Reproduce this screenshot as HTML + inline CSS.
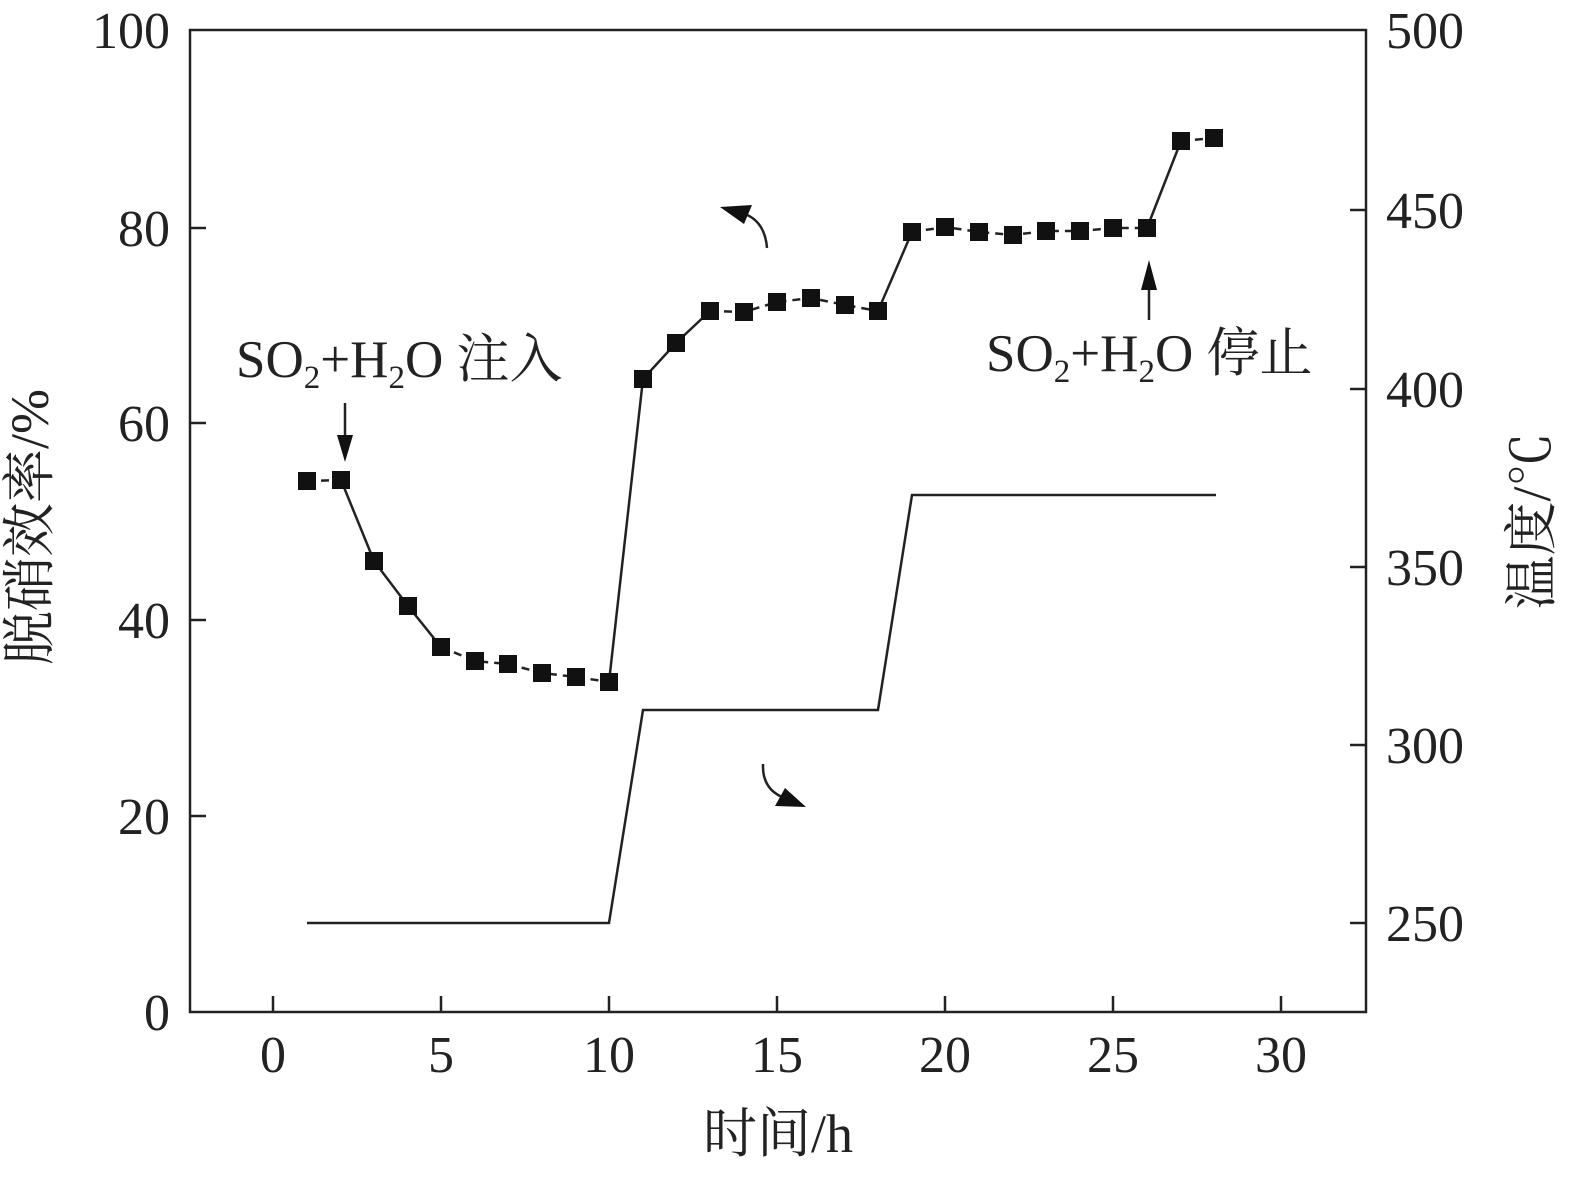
<!DOCTYPE html>
<html><head><meta charset="utf-8"><style>body{margin:0;background:#fff}</style></head><body>
<svg width="1575" height="1174" xmlns="http://www.w3.org/2000/svg" font-family="Liberation Serif, Noto Serif CJK SC, serif" fill="#222">
<rect x="190" y="30" width="1176" height="982" fill="none" stroke="#222" stroke-width="2.5"/>
<g stroke="#222" stroke-width="2.5">
<line x1="190" y1="816" x2="206" y2="816"/><line x1="190" y1="620" x2="206" y2="620"/><line x1="190" y1="423" x2="206" y2="423"/><line x1="190" y1="228" x2="206" y2="228"/>
<line x1="1366" y1="210" x2="1350" y2="210"/><line x1="1366" y1="389" x2="1350" y2="389"/><line x1="1366" y1="567" x2="1350" y2="567"/><line x1="1366" y1="745" x2="1350" y2="745"/><line x1="1366" y1="923" x2="1350" y2="923"/>
<line x1="273" y1="1012" x2="273" y2="996"/><line x1="441" y1="1012" x2="441" y2="996"/><line x1="609" y1="1012" x2="609" y2="996"/><line x1="777" y1="1012" x2="777" y2="996"/><line x1="945" y1="1012" x2="945" y2="996"/><line x1="1113" y1="1012" x2="1113" y2="996"/><line x1="1281" y1="1012" x2="1281" y2="996"/>
</g>
<g font-size="52" text-anchor="end">
<text x="170" y="1030">0</text><text x="170" y="834">20</text><text x="170" y="638">40</text><text x="170" y="441">60</text><text x="170" y="246">80</text><text x="170" y="48">100</text>
</g>
<g font-size="52" text-anchor="start">
<text x="1386" y="48">500</text><text x="1386" y="228">450</text><text x="1386" y="407">400</text><text x="1386" y="585">350</text><text x="1386" y="763">300</text><text x="1386" y="941">250</text>
</g>
<g font-size="52" text-anchor="middle">
<text x="273" y="1072">0</text><text x="441" y="1072">5</text><text x="609" y="1072">10</text><text x="777" y="1072">15</text><text x="945" y="1072">20</text><text x="1113" y="1072">25</text><text x="1281" y="1072">30</text>
</g>
<text x="778" y="1152" font-size="54" text-anchor="middle">时间/h</text>
<text font-size="54" text-anchor="middle" transform="translate(48,527) rotate(-90)">脱硝效率/%</text>
<text font-size="54" text-anchor="middle" transform="translate(1550,521) rotate(-90)">温度/<tspan font-family="Noto Serif CJK SC, serif">℃</tspan></text>
<polyline fill="none" stroke="#222" stroke-width="2.5" points="307,923 609,923 643,710 878,710 912,495 1216,495"/>
<g fill="none" stroke="#222" stroke-width="2.5">
<polyline stroke-dasharray="8,6" points="307,481 341,480"/>
<polyline points="341,480 374,561 408,606 441,647"/>
<polyline stroke-dasharray="8,6" points="441,647 475,661 508,664 542,673 576,677 609,682"/>
<polyline points="609,682 643,379 676,343 710,311"/>
<polyline stroke-dasharray="8,6" points="710,311 744,312 777,302 811,298 845,305 878,311"/>
<polyline points="878,311 912,232"/>
<polyline stroke-dasharray="8,6" points="912,232 945,227 979,232 1013,235 1046,231 1080,231 1113,228 1147,228"/>
<polyline points="1147,228 1181,141"/>
<polyline stroke-dasharray="8,6" points="1181,141 1214,138"/>
</g>
<g fill="#111">
<rect x="298" y="472" width="18" height="18"/><rect x="332" y="471" width="18" height="18"/><rect x="365" y="552" width="18" height="18"/><rect x="399" y="597" width="18" height="18"/><rect x="432" y="638" width="18" height="18"/><rect x="466" y="652" width="18" height="18"/><rect x="499" y="655" width="18" height="18"/><rect x="533" y="664" width="18" height="18"/><rect x="567" y="668" width="18" height="18"/><rect x="600" y="673" width="18" height="18"/>
<rect x="634" y="370" width="18" height="18"/><rect x="667" y="334" width="18" height="18"/><rect x="701" y="302" width="18" height="18"/><rect x="735" y="303" width="18" height="18"/><rect x="768" y="293" width="18" height="18"/><rect x="802" y="289" width="18" height="18"/><rect x="836" y="296" width="18" height="18"/><rect x="869" y="302" width="18" height="18"/>
<rect x="903" y="223" width="18" height="18"/><rect x="936" y="218" width="18" height="18"/><rect x="970" y="223" width="18" height="18"/><rect x="1004" y="226" width="18" height="18"/><rect x="1037" y="222" width="18" height="18"/><rect x="1071" y="222" width="18" height="18"/><rect x="1104" y="219" width="18" height="18"/><rect x="1138" y="219" width="18" height="18"/><rect x="1172" y="132" width="18" height="18"/><rect x="1205" y="129" width="18" height="18"/>
</g>
<text x="236" y="377" font-size="53">SO<tspan font-size="33" dy="11">2</tspan><tspan dy="-11">+H</tspan><tspan font-size="33" dy="11">2</tspan><tspan dy="-11">O 注入</tspan></text>
<text x="986" y="371" font-size="53">SO<tspan font-size="33" dy="11">2</tspan><tspan dy="-11">+H</tspan><tspan font-size="33" dy="11">2</tspan><tspan dy="-11">O 停止</tspan></text>
<line x1="345" y1="403" x2="345" y2="440" stroke="#222" stroke-width="2.5"/><polygon points="337,435 353,435 345,462" fill="#111"/>
<line x1="1149" y1="320" x2="1149" y2="285" stroke="#222" stroke-width="2.5"/><polygon points="1141,290 1157,290 1149,260" fill="#111"/>
<path d="M767,248 Q765,222 745,214" fill="none" stroke="#222" stroke-width="2.5"/><polygon points="720,207 752,205 744,224" fill="#111"/>
<path d="M763,764 Q762,788 782,797" fill="none" stroke="#222" stroke-width="2.5"/><polygon points="806,807 775,806 785,788" fill="#111"/>
</svg>
</body></html>
